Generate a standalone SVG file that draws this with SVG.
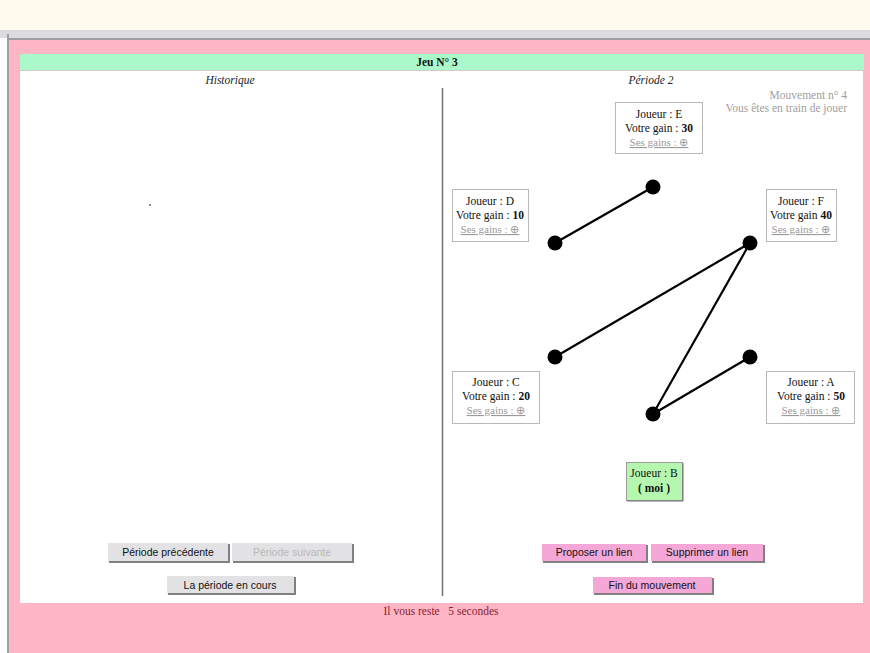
<svg xmlns="http://www.w3.org/2000/svg" width="870" height="653" viewBox="0 0 870 653">
  <style>
    .serif { font-family: "Liberation Serif", "Times New Roman", serif; }
    .sans { font-family: "Liberation Sans", Arial, sans-serif; }
    .box { fill: #ffffff; stroke: #b8b8b8; stroke-width: 1; }
    .nt { font-family: "Liberation Serif", "Times New Roman", serif; font-size: 11.5px; fill: #111; text-anchor: middle; }
    .gains { font-family: "Liberation Serif", "Times New Roman", serif; font-size: 11px; fill: #9a9a9a; text-anchor: middle; text-decoration: underline; }
    .btntext { font-family: "Liberation Sans", Arial, sans-serif; font-size: 10.5px; fill: #111; text-anchor: middle; }
    .edge { stroke: #000; stroke-width: 2.2; fill: none; }
    .dot { fill: #000; }
  </style>

  <!-- window background -->
  <rect x="0" y="0" width="870" height="30" fill="#fff9ee"/>
  <rect x="0" y="30" width="870" height="8" fill="#dcdce0"/>
  <rect x="7" y="38" width="863" height="2" fill="#a09ca0"/>
  <rect x="7" y="40" width="863" height="613" fill="#ffb6c4"/>
  <rect x="7" y="34" width="2" height="619" fill="#a0a0a0"/>

  <!-- header bar -->
  <rect x="20" y="54" width="844" height="16" fill="#aaf9ca"/>
  <rect x="20" y="70" width="844" height="1" fill="#d8c8c8"/>
  <text x="437" y="66" class="serif" font-size="11.5" font-weight="bold" text-anchor="middle" fill="#111">Jeu N° 3</text>

  <!-- main panel -->
  <rect x="20" y="71" width="843" height="532" fill="#ffffff"/>
  <line x1="442.5" y1="88" x2="442.5" y2="596" stroke="#707070" stroke-width="1.5"/>

  <text x="230" y="84" class="serif" font-size="11.5" font-style="italic" text-anchor="middle" fill="#222">Historique</text>
  <text x="651" y="84" class="serif" font-size="11.5" font-style="italic" text-anchor="middle" fill="#222">Période 2</text>
  <text x="847" y="99" class="serif" font-size="11.5" text-anchor="end" fill="#a0a0a0">Mouvement n° 4</text>
  <text x="847" y="112" class="serif" font-size="11.5" text-anchor="end" fill="#a0a0a0">Vous êtes en train de jouer</text>

  <rect x="149" y="204" width="2" height="2" fill="#909090"/>

  <!-- connectors -->
  <g id="connectors">
    <line class="edge" x1="653" y1="187" x2="555" y2="243"/>
    <line class="edge" x1="750" y1="243" x2="555" y2="357"/>
    <line class="edge" x1="750" y1="243" x2="653" y2="414"/>
    <line class="edge" x1="750" y1="357" x2="653" y2="414"/>
    <circle class="dot" cx="653" cy="187" r="7.5"/>
    <circle class="dot" cx="555" cy="243" r="7.5"/>
    <circle class="dot" cx="750" cy="243" r="7.5"/>
    <circle class="dot" cx="555" cy="357" r="7.5"/>
    <circle class="dot" cx="750" cy="357" r="7.5"/>
    <circle class="dot" cx="653" cy="414" r="7.5"/>
  </g>

  <!-- player nodes -->
  <g id="node-E">
    <rect class="box" x="615.5" y="102.5" width="87" height="51"/>
    <text class="nt" x="659" y="118">Joueur : E</text>
    <text class="nt" x="659" y="132">Votre gain : <tspan font-weight="bold">30</tspan></text>
    <text class="gains" x="659" y="146">Ses gains :  ⊕</text>
  </g>
  <g id="node-D">
    <rect class="box" x="452.5" y="189.5" width="76" height="52"/>
    <text class="nt" x="490" y="205">Joueur : D</text>
    <text class="nt" x="490" y="219">Votre gain : <tspan font-weight="bold">10</tspan></text>
    <text class="gains" x="490" y="233">Ses gains :  ⊕</text>
  </g>
  <g id="node-F">
    <rect class="box" x="766.5" y="189.5" width="70" height="52"/>
    <text class="nt" x="801" y="205">Joueur : F</text>
    <text class="nt" x="801" y="219">Votre gain <tspan font-weight="bold">40</tspan></text>
    <text class="gains" x="801" y="233">Ses gains :  ⊕</text>
  </g>
  <g id="node-C">
    <rect class="box" x="452.5" y="371.5" width="87" height="52"/>
    <text class="nt" x="496" y="386">Joueur : C</text>
    <text class="nt" x="496" y="400">Votre gain : <tspan font-weight="bold">20</tspan></text>
    <text class="gains" x="496" y="414">Ses gains :  ⊕</text>
  </g>
  <g id="node-A">
    <rect class="box" x="766.5" y="371.5" width="88" height="52"/>
    <text class="nt" x="811" y="386">Joueur : A</text>
    <text class="nt" x="811" y="400">Votre gain : <tspan font-weight="bold">50</tspan></text>
    <text class="gains" x="811" y="414">Ses gains :  ⊕</text>
  </g>
  <g id="node-B">
    <rect x="626.5" y="462.5" width="56" height="38" fill="#b6f7b0" stroke="#9a9a9a" stroke-width="1"/>
    <line x1="683" y1="463" x2="683" y2="501" stroke="#707070"/>
    <line x1="627" y1="501" x2="683" y2="501" stroke="#707070"/>
    <text class="nt" x="654" y="477">Joueur : B</text>
    <text class="nt" x="654" y="492" font-weight="bold">( moi )</text>
  </g>

  <!-- buttons -->
  <g id="btn-precedente">
    <rect x="109" y="544" width="121" height="19" fill="#808080"/>
    <rect x="108" y="543" width="120" height="18" fill="#e2e2e4"/>
    <text class="btntext" x="168" y="556">Période précédente</text>
  </g>
  <g id="btn-suivante">
    <rect x="233" y="544" width="121" height="19" fill="#808080"/>
    <rect x="232" y="543" width="120" height="18" fill="#e2e2e4"/>
    <text class="btntext" x="292" y="556" style="fill:#b8b8b8">Période suivante</text>
  </g>
  <g id="btn-encours">
    <rect x="168" y="577" width="128" height="18" fill="#808080"/>
    <rect x="167" y="576" width="127" height="17" fill="#e2e2e4"/>
    <text class="btntext" x="230" y="589">La période en cours</text>
  </g>
  <g id="btn-proposer">
    <rect x="543" y="545" width="105" height="18" fill="#808080"/>
    <rect x="542" y="544" width="104" height="17" fill="#f5a8d8"/>
    <text class="btntext" x="594" y="556">Proposer un lien</text>
  </g>
  <g id="btn-supprimer">
    <rect x="652" y="545" width="113" height="18" fill="#808080"/>
    <rect x="651" y="544" width="112" height="17" fill="#f5a8d8"/>
    <text class="btntext" x="707" y="556">Supprimer un lien</text>
  </g>
  <g id="btn-fin">
    <rect x="594" y="578" width="120" height="17" fill="#808080"/>
    <rect x="593" y="577" width="119" height="16" fill="#f5a8d8"/>
    <text class="btntext" x="652" y="589">Fin du mouvement</text>
  </g>

  <text x="441" y="615" class="serif" font-size="11.5" text-anchor="middle" fill="#8a2030" xml:space="preserve">Il vous reste   5 secondes</text>
</svg>
